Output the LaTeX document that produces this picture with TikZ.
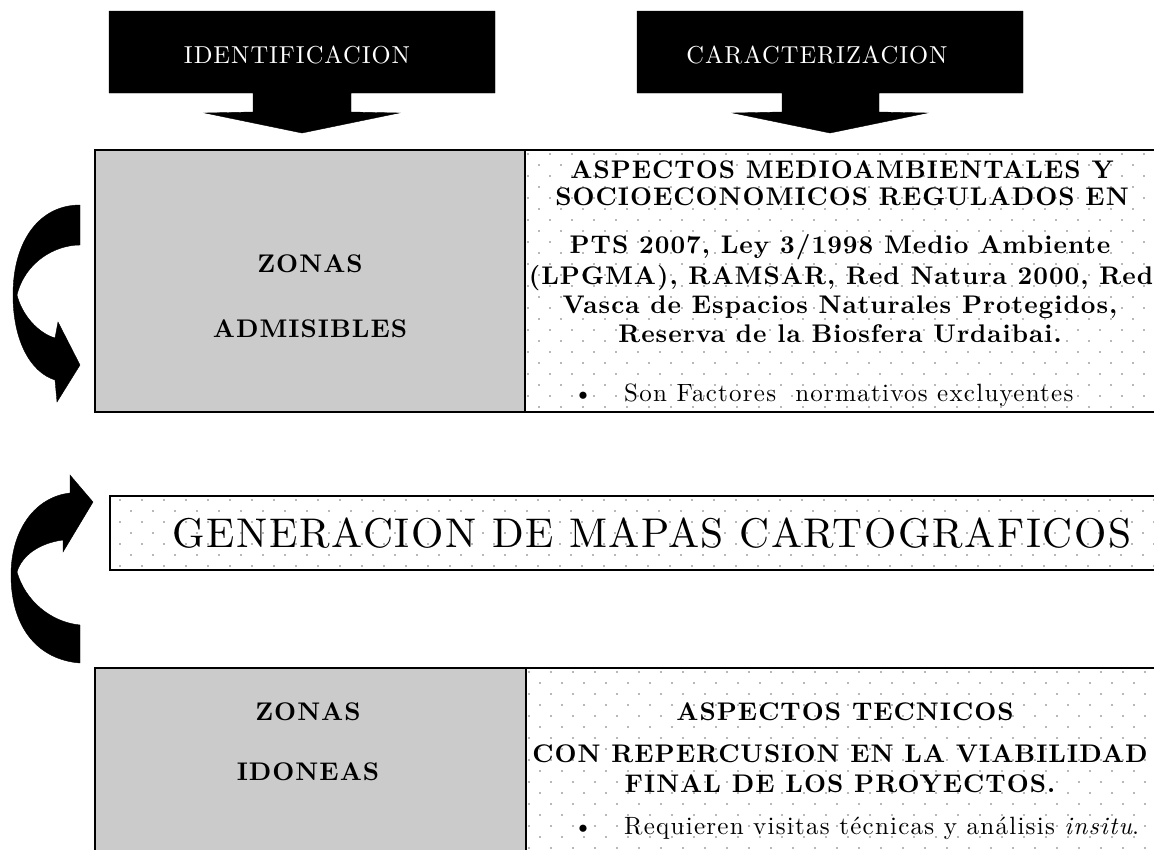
\documentclass[tikz,border=0pt]{standalone}
\usepackage{fontspec}
\setmainfont{lmroman10}[Extension=.otf, UprightFont=*-regular, BoldFont=*-bold, ItalicFont=*-italic, BoldItalicFont=*-bolditalic]
\definecolor{cellgray}{HTML}{CBCBCB}
\definecolor{dotgray}{HTML}{B8B8B8}
\tikzset{
  cellbox/.style={draw=black, line width=1.3pt},
  blackarrow/.style={fill=black, draw=black, line width=0.4pt},
  curvearrow/.style={fill=black, draw=black, line width=0.4pt},
  hdr/.style={text=white, anchor=base, inner sep=0pt, font=\fontsize{24.5}{28}\selectfont\addfontfeatures{LetterSpace=4}},
  bx/.style={anchor=base, inner sep=0pt, font=\fontsize{25.5}{30}\selectfont\bfseries\addfontfeatures{LetterSpace=4}},
  zona/.style={anchor=base, inner sep=0pt, font=\fontsize{25.5}{30}\selectfont\bfseries\addfontfeatures{LetterSpace=4}},
  rg/.style={anchor=base, inner sep=0pt, font=\fontsize{25}{29}\selectfont\addfontfeatures{LetterSpace=5}},
  bigtxt/.style={anchor=base, inner sep=0pt, font=\fontsize{41.5}{48}\selectfont\addfontfeatures{LetterSpace=4}},
  dot/.style={fill=dotgray}
}
\begin{document}
\begin{tikzpicture}[x=1pt,y=-1pt]
\useasboundingbox (0,0) rectangle (1154,849);

% ---------- top black arrows ----------
\path[blackarrow] (109,11) -- (495,11) -- (495,93) -- (351,93) -- (351,112) -- (399,113)
  -- (302,133) -- (205,113) -- (253,112) -- (253,93) -- (109,93) -- cycle;
\node[hdr] (ident) at (297,63) {IDENTIFICACION};
\path[blackarrow] (637,11) -- (1023,11) -- (1023,93) -- (879,93) -- (879,112) -- (927,113)
  -- (830,133) -- (733,113) -- (782,112) -- (782,93) -- (637,93) -- cycle;
\node[hdr] (caract) at (817,63) {CARACTERIZACION};

% ---------- top table ----------
\fill[cellgray] (95,150) rectangle (525,412);
\begin{scope}
  \clip (525,150) rectangle (1160,412);
  \foreach \xx in {0,22,...,640} \foreach \yy in {0,22,...,264} {
    \fill[dot] (527+\xx,153+\yy) rectangle +(1.8,1.8);
    \fill[dot] (538+\xx,164+\yy) rectangle +(1.8,1.8);
  }
\end{scope}
\draw[cellbox] (95,150) rectangle (1160,412);
\draw[cellbox] (525,150) -- (525,412);

\node[zona] (z1) at (310,272) {ZONAS};
\node[zona] (adm) at (310,337) {ADMISIBLES};

\node[bx] (t1) at (842,178) {ASPECTOS MEDIOAMBIENTALES Y};
\node[bx] (t2) at (842,205) {SOCIOECONOMICOS REGULADOS EN};
\node[bx] (t3) at (840,253) {PTS 2007, Ley 3/1998 Medio Ambiente};
\node[bx] (t4) at (841,284) {(LPGMA), RAMSAR, Red Natura 2000, Red};
\node[bx] (t5) at (840,313) {Vasca de Espacios Naturales Protegidos,};
\node[bx] (t6) at (840,342) {Reserva de la Biosfera Urdaibai.};
\node[rg] (b1) at (583,401) {\textbullet};
\node[rg, anchor=base west] (t7) at (624,401) {Son Factores~ normativos excluyentes};

% ---------- middle box ----------
\begin{scope}
  \clip (110,496) rectangle (1160,570);
  \foreach \xx in {0,22,...,1060} \foreach \yy in {0,22,...,80} {
    \fill[dot] (119+\xx,499+\yy) rectangle +(1.8,1.8);
    \fill[dot] (130+\xx,510+\yy) rectangle +(1.8,1.8);
  }
\end{scope}
\draw[cellbox] (110,496) rectangle (1160,570);
\node[bigtxt] (gen) at (652,547) {GENERACION DE MAPAS CARTOGRAFICOS};

% ---------- bottom table ----------
\fill[cellgray] (95,668) rectangle (526,860);
\begin{scope}
  \clip (526,668) rectangle (1160,860);
  \foreach \xx in {0,22,...,640} \foreach \yy in {0,22,...,200} {
    \fill[dot] (528+\xx,671+\yy) rectangle +(1.8,1.8);
    \fill[dot] (539+\xx,682+\yy) rectangle +(1.8,1.8);
  }
\end{scope}
\draw[cellbox] (95,668) rectangle (1160,860);
\draw[cellbox] (526,668) -- (526,860);

\node[zona] (z2) at (308,720) {ZONAS};
\node[zona] (ido) at (308,780) {IDONEAS};

\node[bx] (u1) at (845,720) {ASPECTOS TECNICOS};
\node[bx] (u2) at (840,762) {CON REPERCUSION EN LA VIABILIDAD};
\node[bx] (u3) at (840,792) {FINAL DE LOS PROYECTOS.};
\node[rg] (b2) at (583,834) {\textbullet};
\node[rg, anchor=base west] (u4) at (624,834) {Requieren visitas técnicas y análisis \textit{insitu}.};

% ---------- curved arrows ----------
\path[curvearrow] (80,205) .. controls (40,205) and (13,240) .. (13,295)
  .. controls (13,340) and (30,372) .. (55,380)
  -- (57,402) -- (80,365) -- (58,322) -- (55,338)
  .. controls (38,333) and (22,315) .. (17,295)
  .. controls (25,262) and (55,245) .. (80,245) -- cycle;

\path[curvearrow] (80,663) .. controls (40,660) and (11,630) .. (11,575)
  .. controls (11,530) and (35,497) .. (70,493)
  -- (70,475) -- (93,502) -- (63,552) -- (63,540)
  .. controls (40,543) and (22,555) .. (17,572)
  .. controls (25,600) and (50,622) .. (80,625) -- cycle;
\end{tikzpicture}
\end{document}
